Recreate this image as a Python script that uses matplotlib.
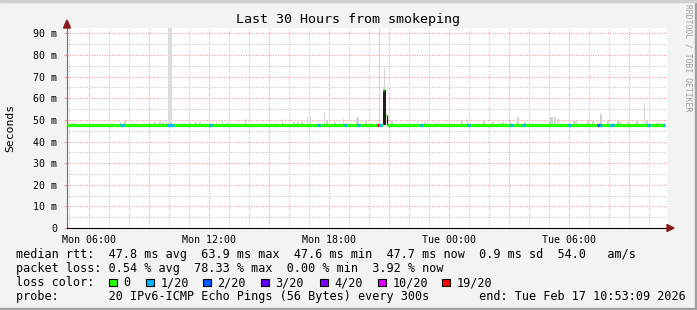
"""
Smokeping "Last 30 Hours" graph, redrawn with matplotlib.
Time axis is in hours since Mon 04:53:09 (30 h before the end stamp).
"""

import matplotlib
matplotlib.use('Agg')
import matplotlib.pyplot as plt
from matplotlib.patches import Rectangle, Polygon


# ── Data ──────────────────────────────────────────────────────────────────────

span_h = 30.0
tick_h = [1.114, 7.114, 13.114, 19.114, 25.114]
tick_labels = ['Mon 06:00', 'Mon 12:00', 'Mon 18:00', 'Tue 00:00', 'Tue 06:00']
ytick_ms = [0, 10, 20, 30, 40, 50, 60, 70, 80, 90]
ytick_labels = ['0', '10 m', '20 m', '30 m', '40 m', '50 m', '60 m', '70 m', '80 m', '90 m']
y_top = 92.5

# median rtt (ms) : flat baseline, plus the one excursion around Mon 20:40
median_base = 47.8
median_end_h = 29.9
spike_start_h = [15.80, 15.93]
spike_end_h = [15.93, 16.00]
spike_ms = [63.8, 52.2]

# steps with packet loss (index into loss_labels / loss_colors)
loss_start_h = [2.65, 5.00, 7.10, 12.50, 13.85, 14.50, 15.50, 15.62, 17.65, 20.00,
                22.15, 22.75, 25.05, 26.50, 26.65, 27.15, 29.00, 29.80]
loss_end_h = [2.85, 5.35, 7.25, 12.65, 14.00, 14.65, 15.62, 15.75, 17.80, 20.15,
              22.30, 22.90, 25.20, 26.65, 26.75, 27.35, 29.15, 29.90]
loss_class = [1, 1, 1, 1, 1, 1, 6, 1, 1, 1, 1, 1, 1, 2, 1, 1, 1, 1]

loss_labels = ['0', '1/20', '2/20', '3/20', '4/20', '10/20', '19/20']
loss_colors = ['#26ff00', '#00b8ff', '#0059ff', '#5e00ff', '#7e00ff', '#dd00ff', '#ff0000']

# smoke (spread of the 20 pings) : step time and highest ping in ms
smoke_h = [0.29, 2.67, 2.90, 4.12, 4.40, 4.65, 4.80, 4.97, 5.85, 6.15, 6.45, 6.65,
           6.98, 7.48, 7.78, 8.05, 8.93, 10.48, 10.77, 11.35, 11.55, 11.75, 12.02,
           12.17, 12.87, 13.00, 13.40, 13.82, 14.50, 14.58, 14.95, 15.62, 15.88,
           16.24, 17.52, 17.90, 18.02, 18.49, 19.12, 19.74, 20.02, 20.85, 21.29,
           21.79, 22.15, 22.55, 22.90, 24.12, 24.20, 24.28, 24.40, 24.55, 25.35,
           25.45, 26.05, 26.30, 26.69, 27.05, 27.55, 27.65, 28.05, 28.50, 28.88,
           29.00, 29.49, 29.65]
smoke_top = [48.4, 49.1, 49.9, 50.7, 49.0, 48.9, 48.9, 49.9, 48.6, 49.0, 48.8, 48.8,
             48.7, 48.9, 49.9, 48.6, 50.4, 48.7, 50.2, 49.1, 49.1, 49.1, 51.5,
             51.5, 53.0, 49.5, 49.1, 50.2, 51.1, 51.2, 49.5, 92.5, 74.6,
             49.5, 49.9, 49.2, 49.5, 48.7, 48.9, 49.3, 50.3, 49.6, 48.9,
             48.9, 49.5, 51.2, 49.2, 50.0, 51.5, 51.5, 51.2, 50.2, 49.5,
             49.3, 49.7, 49.3, 52.7, 49.7, 49.5, 48.9, 48.9, 49.3, 57.9,
             50.0, 48.7, 48.5]
# the wide grey column near Mon 10:00
big_smoke_h = 5.15
big_smoke_top = 92.5

legend_rtt = 'median rtt:  47.8 ms avg  63.9 ms max  47.6 ms min  47.7 ms now  0.9 ms sd  54.0   am/s'
legend_loss = 'packet loss: 0.54 % avg  78.33 % max  0.00 % min  3.92 % now'
legend_probe = 'probe:       20 IPv6-ICMP Echo Pings (56 Bytes) every 300s       end: Tue Feb 17 10:53:09 2026'


# ── Figure ────────────────────────────────────────────────────────────────────

W, H = 697, 310
MONO = 'DejaVu Sans Mono'
BG = '#f3f3f3'


def fx(px):
    return px / W


def fy(py):
    return 1 - py / H


fig = plt.figure(figsize=(W / 100, H / 100), dpi=100, facecolor=BG)
ax = fig.add_axes([fx(67), fy(228), 600 / W, 200 / H])
ax.set_facecolor('white')
ax.set_xlim(0, span_h)
ax.set_ylim(0, y_top)

# grid : grey every hour / 5 ms, red every 3 h / 10 ms
dot = (0, (1, 1.2))
for k in range(31):
    h = 0.114 + k
    if h > span_h:
        break
    major = (k - 1) % 3 == 0
    ax.axvline(h, color='#f2a0a0' if major else '#c8c8c8', lw=0.8, ls=dot, zorder=1)
for v in range(5, 95, 5):
    ax.axhline(v, color='#f2a0a0' if v % 10 == 0 else '#c8c8c8', lw=0.8, ls=dot, zorder=1)

# smoke
step = 1 / 12
ax.bar(smoke_h, [t - 47.3 for t in smoke_top], bottom=47.3, width=step,
       color='#d2d2d2', linewidth=0, zorder=2)
ax.bar([big_smoke_h], [big_smoke_top - 47.3], bottom=47.3, width=0.17,
       color='#dcdcdc', linewidth=0, zorder=2)

# median line, dark underneath
ax.bar([(spike_start_h[0] + spike_end_h[0]) / 2], [spike_ms[0] - median_base],
       bottom=median_base, width=spike_end_h[0] - spike_start_h[0],
       color='#202020', linewidth=0, zorder=3)
ax.vlines(spike_end_h[1], median_base, spike_ms[1], color='#202020', lw=0.9, zorder=3)

# median coloured by loss
seg = dict(lw=2.3, capstyle='butt', zorder=4)
ax.hlines(median_base, 0, spike_start_h[0], color=loss_colors[0], **seg)
ax.hlines(median_base, spike_end_h[1], median_end_h, color=loss_colors[0], **seg)
ax.hlines(spike_ms[0], spike_start_h[0], spike_start_h[0] + 0.05, color=loss_colors[0], **seg)
ax.hlines(spike_ms[1], spike_start_h[1], spike_end_h[1], color=loss_colors[0], **seg)
for s, e, c in zip(loss_start_h, loss_end_h, loss_class):
    ax.hlines(median_base, s, e, color=loss_colors[c], **seg)

# axes, ticks
for side in ['top', 'right']:
    ax.spines[side].set_visible(False)
ax.spines['left'].set_color('#707070')
ax.spines['bottom'].set_color('black')
ax.set_xticks(tick_h)
ax.set_xticklabels(tick_labels, fontfamily=MONO, fontsize=7.2)
ax.set_yticks(ytick_ms)
ax.set_yticklabels(ytick_labels, fontfamily=MONO, fontsize=7.2)
ax.tick_params(axis='x', length=0, pad=5)
ax.tick_params(axis='y', length=2, color='#f2a0a0', pad=5)

# arrow heads
fig.patches.append(Polygon([[fx(63.5), fy(28)], [fx(70.5), fy(28)], [fx(67), fy(20)]],
                           closed=True, transform=fig.transFigure, color='#8b1a1a'))
fig.patches.append(Polygon([[fx(667), fy(224.5)], [fx(667), fy(231.5)], [fx(674), fy(228)]],
                           closed=True, transform=fig.transFigure, color='#8b1a1a'))

# frame of the canvas
fig.patches.append(Rectangle((0, 0), 1, fy(308), transform=fig.transFigure,
                             color='#a0a0a0', zorder=0))
fig.patches.append(Rectangle((fx(695), 0), fx(2), 1, transform=fig.transFigure,
                             color='#a0a0a0', zorder=0))
fig.patches.append(Rectangle((0, fy(2)), 1, fy(0) - fy(2), transform=fig.transFigure,
                             color='#d0d0d0', zorder=0))

# titles
fig.text(fx(348), fy(19), 'Last 30 Hours from smokeping', ha='center', va='center',
         fontfamily=MONO, fontsize=9.6)
fig.text(fx(10.5), fy(128), 'Seconds', rotation=90, ha='center', va='center',
         fontfamily=MONO, fontsize=8.2)
fig.text(fx(688), fy(58), 'RRDTOOL / TOBI OETIKER', rotation=270, ha='center', va='center',
         fontfamily=MONO, fontsize=5.8, color='#a0a0a0')

# legend
LF = 8.45
row_y = [254.3, 268.3, 282.5, 296.7]
fig.text(fx(16), fy(row_y[0]), legend_rtt, va='center', fontfamily=MONO, fontsize=LF)
fig.text(fx(16), fy(row_y[1]), legend_loss, va='center', fontfamily=MONO, fontsize=LF)
fig.text(fx(16), fy(row_y[2]), 'loss color:', va='center', fontfamily=MONO, fontsize=LF)
sw_x = [109, 146, 203, 261, 320, 378, 442]
for x, lab, col in zip(sw_x, loss_labels, loss_colors):
    fig.patches.append(Rectangle((fx(x), fy(row_y[2] + 3.8)), 7.5 / W, 7.5 / H,
                                 transform=fig.transFigure, facecolor=col,
                                 edgecolor='black', lw=0.8))
    fig.text(fx(x + 14.5), fy(row_y[2]), lab, va='center', fontfamily=MONO, fontsize=LF)
fig.text(fx(16), fy(row_y[3]), legend_probe, va='center', fontfamily=MONO, fontsize=LF)

fig.savefig('out.png', dpi=100, facecolor=BG)
